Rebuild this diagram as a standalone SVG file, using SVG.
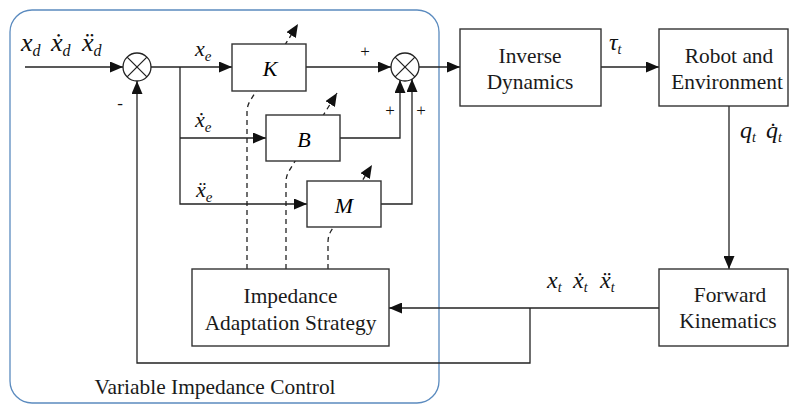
<svg xmlns="http://www.w3.org/2000/svg" width="790" height="405" viewBox="0 0 790 405">
  <style>
    text, tspan { font-family: 'Liberation Serif', serif !important; }
    .box { fill: #ffffff; stroke: #333333; stroke-width: 1.4; }
    .wire { fill: none; stroke: #222222; stroke-width: 1.3; }
    .dash { fill: none; stroke: #222222; stroke-width: 1.3; stroke-dasharray: 5 4; }
    .sum { fill: #ffffff; stroke: #222222; stroke-width: 1.3; }
  </style>
  <defs>
    <marker id="arrow" viewBox="0 0 13 11" refX="13" refY="5.5" markerWidth="13" markerHeight="11" markerUnits="userSpaceOnUse" orient="auto">
      <path d="M0,0 L13,5.5 L0,11 Z" fill="#111111"/>
    </marker>
  </defs>

  <!-- variable impedance control frame -->
  <rect id="vic-frame" x="10" y="10" width="429" height="393" rx="22" ry="22" fill="none" stroke="#5b8bbf" stroke-width="1.3"/>
  <text x="215" y="394" font-size="21.4" text-anchor="middle" fill="#1a1a1a" style="font-family:'Liberation Serif',serif">Variable Impedance Control</text>

  <!-- connectors -->
  <g id="connectors">
    <path class="wire" d="M25,67 L123,67" marker-end="url(#arrow)"/>
    <path class="wire" d="M151,67 L232,67" marker-end="url(#arrow)"/>
    <path class="wire" d="M180,67 L180,204 L307,204" marker-end="url(#arrow)"/>
    <path class="wire" d="M180,138 L266,138" marker-end="url(#arrow)"/>
    <path class="wire" d="M306,67 L391,67" marker-end="url(#arrow)"/>
    <path class="wire" d="M340,138 L400,138 L400,80" marker-end="url(#arrow)"/>
    <path class="wire" d="M381,204 L412,204 L412,79" marker-end="url(#arrow)"/>
    <path class="wire" d="M419,67 L460,67" marker-end="url(#arrow)"/>
    <path class="wire" d="M601,67 L659,67" marker-end="url(#arrow)"/>
    <path class="wire" d="M729,106 L729,269" marker-end="url(#arrow)"/>
    <path class="wire" d="M659,308 L389,308" marker-end="url(#arrow)"/>
    <path class="wire" d="M530,308 L530,363 L137,363 L137,81" marker-end="url(#arrow)"/>
    <!-- adaptation links -->
    <path class="dash" d="M247,269 L247,112 Q247,106 250,101 L298,24" marker-end="url(#arrow)"/>
    <path class="dash" d="M286,269 L286,182 Q286,176 289,171 L337,93" marker-end="url(#arrow)"/>
    <path class="dash" d="M328,269 L328,242 Q328,236 331,231 L372,165" marker-end="url(#arrow)"/>
  </g>

  <!-- summing junctions -->
  <g id="sum1">
    <circle class="sum" cx="137" cy="67" r="14"/>
    <path class="wire" d="M127.1,57.1 L146.9,76.9 M146.9,57.1 L127.1,76.9"/>
  </g>
  <g id="sum2">
    <circle class="sum" cx="405" cy="67" r="14"/>
    <path class="wire" d="M395.1,57.1 L414.9,76.9 M414.9,57.1 L395.1,76.9"/>
  </g>

  <!-- gain blocks -->
  <g id="gain-k">
    <rect class="box" x="232" y="44" width="74" height="47"/>
    <text x="270" y="76" font-size="22" font-style="italic" text-anchor="middle" style="font-family:'Liberation Serif',serif">K</text>
  </g>
  <g id="gain-b">
    <rect class="box" x="266" y="115" width="74" height="46"/>
    <text x="304" y="147" font-size="22" font-style="italic" text-anchor="middle" style="font-family:'Liberation Serif',serif">B</text>
  </g>
  <g id="gain-m">
    <rect class="box" x="307" y="181" width="74" height="46"/>
    <text x="344" y="213" font-size="22" font-style="italic" text-anchor="middle" style="font-family:'Liberation Serif',serif">M</text>
  </g>

  <!-- main blocks -->
  <g id="inverse-dynamics">
    <rect class="box" x="460" y="29" width="141" height="77"/>
    <text x="530" y="63" font-size="21.4" text-anchor="middle" fill="#1a1a1a" style="font-family:'Liberation Serif',serif">Inverse</text>
    <text x="530" y="89" font-size="21.4" text-anchor="middle" fill="#1a1a1a" style="font-family:'Liberation Serif',serif">Dynamics</text>
  </g>
  <g id="robot-environment">
    <rect class="box" x="659" y="29" width="129" height="77"/>
    <text x="729" y="63" font-size="21.4" text-anchor="middle" fill="#1a1a1a" style="font-family:'Liberation Serif',serif">Robot and</text>
    <text x="727" y="89" font-size="21.4" text-anchor="middle" fill="#1a1a1a" style="font-family:'Liberation Serif',serif">Environment</text>
  </g>
  <g id="forward-kinematics">
    <rect class="box" x="659" y="269" width="129" height="77"/>
    <text x="730" y="302" font-size="21.4" text-anchor="middle" fill="#1a1a1a" style="font-family:'Liberation Serif',serif">Forward</text>
    <text x="728" y="328" font-size="21.4" text-anchor="middle" fill="#1a1a1a" style="font-family:'Liberation Serif',serif">Kinematics</text>
  </g>
  <g id="adaptation-strategy">
    <rect class="box" x="192" y="269" width="197" height="77"/>
    <text x="290.5" y="303" font-size="21.4" text-anchor="middle" fill="#1a1a1a" style="font-family:'Liberation Serif',serif">Impedance</text>
    <text x="290.5" y="330" font-size="21.4" text-anchor="middle" fill="#1a1a1a" style="font-family:'Liberation Serif',serif">Adaptation Strategy</text>
  </g>

  <!-- signal labels -->
  <g id="signal-labels" fill="#111111" font-style="italic">
    <text x="21" y="51" font-size="26" style="font-family:'Liberation Serif',serif">x<tspan font-size="16" dy="5">d</tspan></text>
    <text x="51" y="51" font-size="26" style="font-family:'Liberation Serif',serif">&#x1E8B;<tspan font-size="16" dy="5">d</tspan></text>
    <text x="82" y="51" font-size="26" style="font-family:'Liberation Serif',serif">&#x1E8D;<tspan font-size="16" dy="5">d</tspan></text>

    <text x="195" y="56" font-size="22" style="font-family:'Liberation Serif',serif">x<tspan font-size="15" dy="5">e</tspan></text>
    <text x="195" y="127" font-size="22" style="font-family:'Liberation Serif',serif">&#x1E8B;<tspan font-size="15" dy="5">e</tspan></text>
    <text x="196" y="197" font-size="22" style="font-family:'Liberation Serif',serif">&#x1E8D;<tspan font-size="15" dy="5">e</tspan></text>

    <text x="609" y="50" font-size="24" style="font-family:'Liberation Serif',serif">&#x3C4;<tspan font-size="14" dy="4">t</tspan></text>
    <text x="740" y="138" font-size="24" style="font-family:'Liberation Serif',serif">q<tspan font-size="14" dy="4">t</tspan></text>
    <text x="766" y="138" font-size="24" style="font-family:'Liberation Serif',serif">q&#x307;<tspan font-size="14" dy="4">t</tspan></text>
    <text x="547" y="288" font-size="24" style="font-family:'Liberation Serif',serif">x<tspan font-size="14" dy="4">t</tspan></text>
    <text x="573" y="288" font-size="24" style="font-family:'Liberation Serif',serif">&#x1E8B;<tspan font-size="14" dy="4">t</tspan></text>
    <text x="600" y="288" font-size="24" style="font-family:'Liberation Serif',serif">&#x1E8D;<tspan font-size="14" dy="4">t</tspan></text>
  </g>

  <!-- junction signs -->
  <g id="signs" fill="#111111">
    <text x="365" y="57" font-size="17" text-anchor="middle" style="font-family:'Liberation Serif',serif">+</text>
    <text x="390" y="116" font-size="17" text-anchor="middle" style="font-family:'Liberation Serif',serif">+</text>
    <text x="421" y="116" font-size="17" text-anchor="middle" style="font-family:'Liberation Serif',serif">+</text>
    <text x="120" y="109" font-size="17" text-anchor="middle" style="font-family:'Liberation Serif',serif">-</text>
  </g>
</svg>
